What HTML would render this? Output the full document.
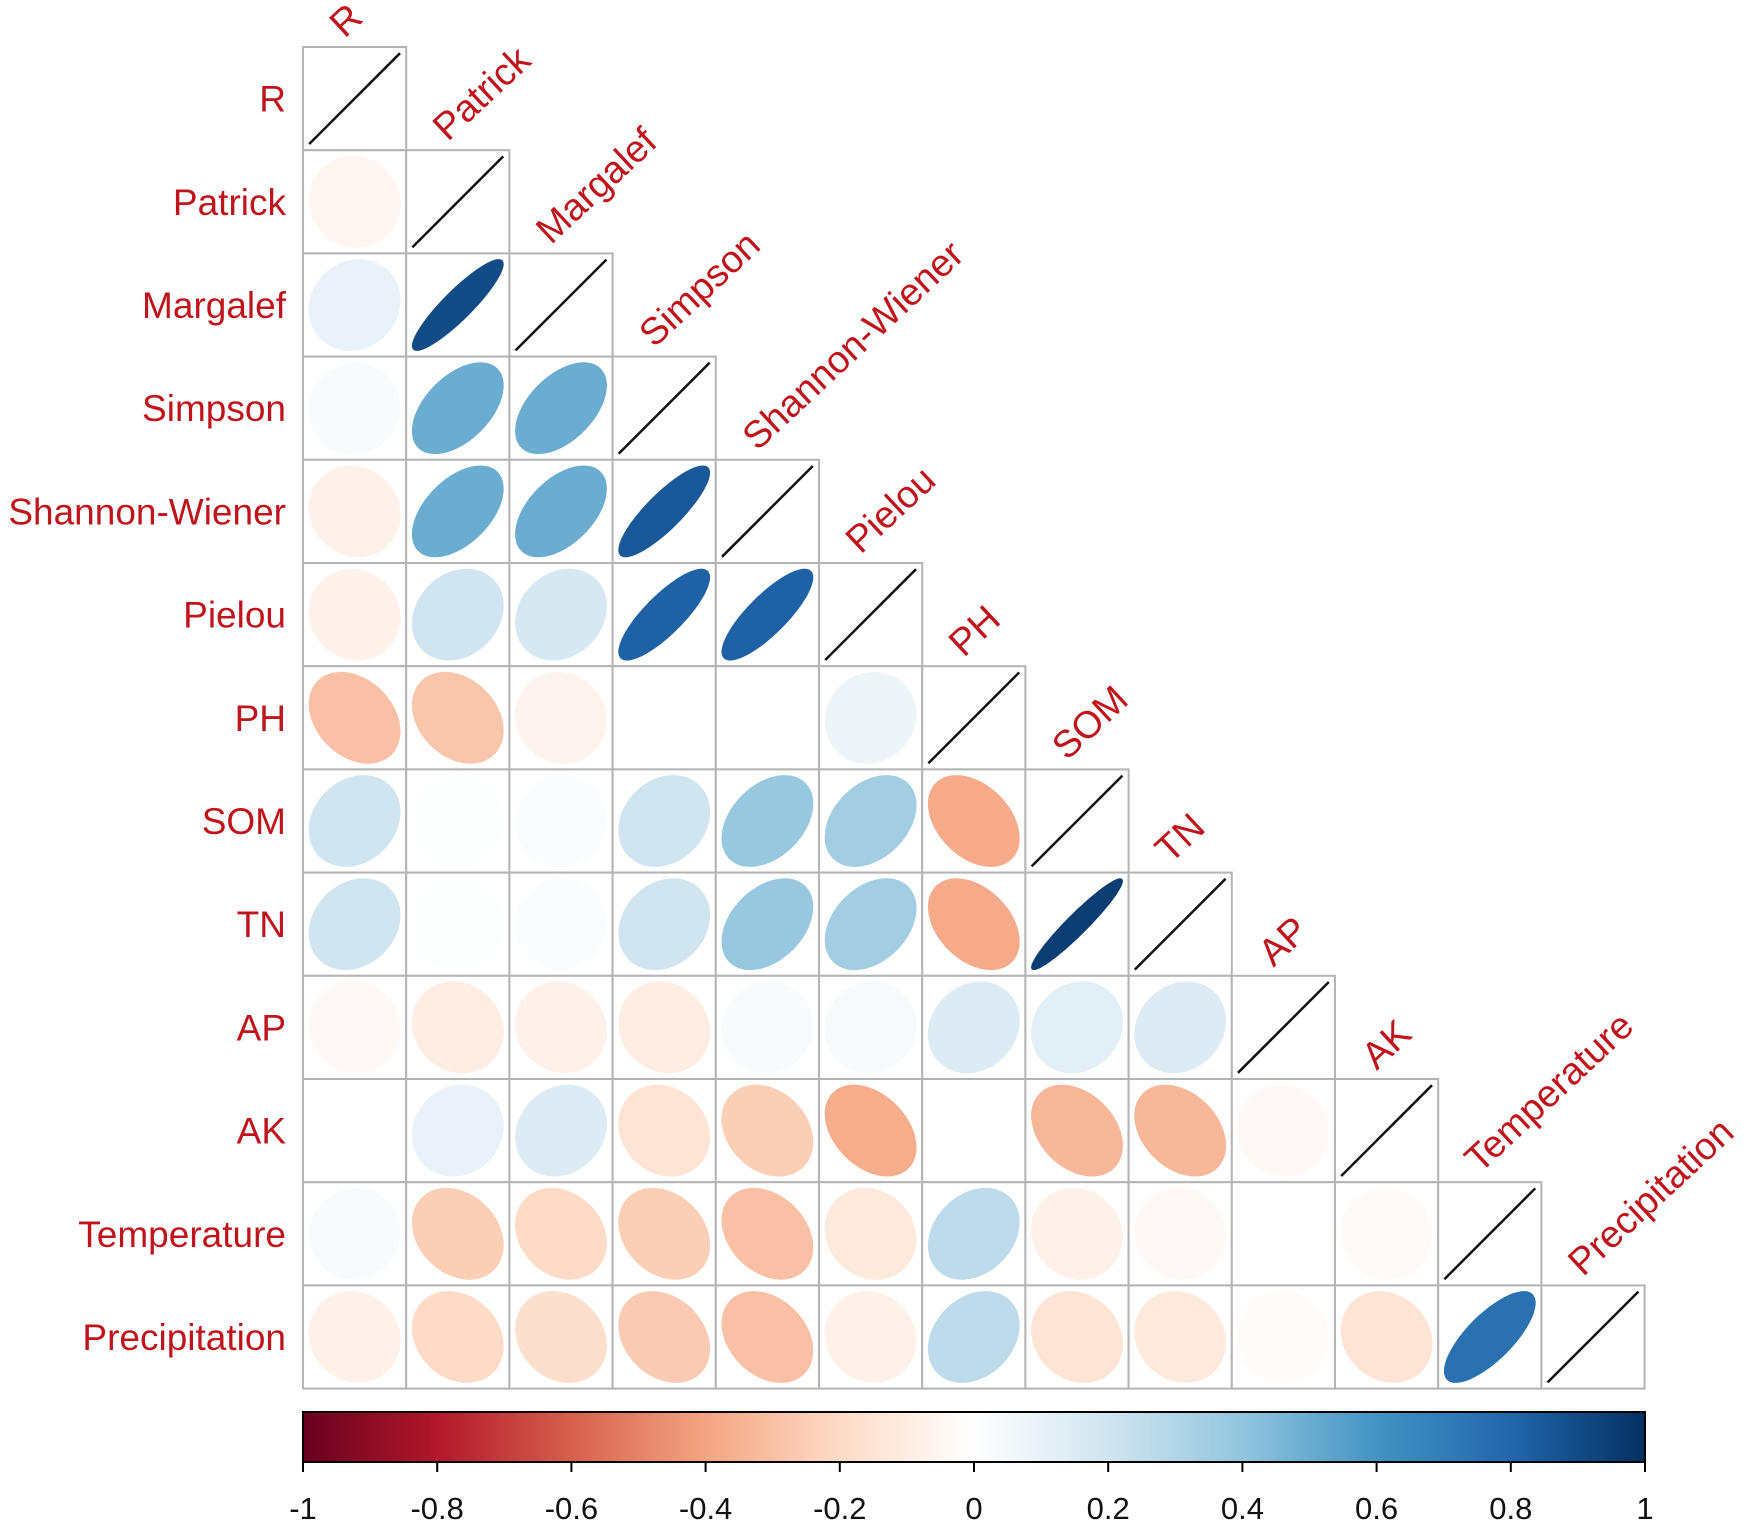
<!DOCTYPE html>
<html><head><meta charset="utf-8"><style>
html,body{margin:0;padding:0;background:#fff;}
svg{display:block;font-family:"Liberation Sans",sans-serif;}
</style></head><body>
<svg id="chart" width="1760" height="1532" viewBox="0 0 1760 1532" xmlns="http://www.w3.org/2000/svg">
<defs>
<linearGradient id="rdbu" x1="0" x2="1" y1="0" y2="0">
<stop offset="0" stop-color="#67001F"/><stop offset="0.1" stop-color="#B2182B"/><stop offset="0.2" stop-color="#D6604D"/><stop offset="0.3" stop-color="#F4A582"/><stop offset="0.4" stop-color="#FDDBC7"/><stop offset="0.5" stop-color="#FFFFFF"/><stop offset="0.6" stop-color="#D1E5F0"/><stop offset="0.7" stop-color="#92C5DE"/><stop offset="0.8" stop-color="#4393C3"/><stop offset="0.9" stop-color="#2166AC"/><stop offset="1" stop-color="#053061"/>
</linearGradient>
</defs>
<g id="cells"></g>
<g id="labels"></g>
<g id="legend"></g>
</svg>
<script>
const variables = ["R","Patrick","Margalef","Simpson","Shannon-Wiener","Pielou","PH","SOM","TN","AP","AK","Temperature","Precipitation"];
const corrRows = [
 [],
 [-0.05],
 [0.10,0.90],
 [0.03,0.50,0.50],
 [-0.08,0.50,0.50,0.85],
 [-0.07,0.20,0.18,0.82,0.82],
 [-0.30,-0.28,-0.06,0.00,0.00,0.08],
 [0.20,0.01,0.02,0.20,0.38,0.35,-0.38],
 [0.20,0.01,0.02,0.20,0.38,0.35,-0.38,0.95],
 [-0.04,-0.10,-0.08,-0.10,0.03,0.04,0.15,0.12,0.15],
 [0.00,0.10,0.15,-0.15,-0.25,-0.37,0.00,-0.33,-0.33,-0.04],
 [0.03,-0.25,-0.20,-0.25,-0.30,-0.12,0.26,-0.08,-0.04,0.00,-0.03],
 [-0.08,-0.20,-0.18,-0.26,-0.30,-0.08,0.26,-0.15,-0.12,-0.02,-0.15,0.75]
];
const tickValues = [-1,-0.8,-0.6,-0.4,-0.2,0,0.2,0.4,0.6,0.8,1];
const tickLabels = ["-1","-0.8","-0.6","-0.4","-0.2","0","0.2","0.4","0.6","0.8","1"];

const NS="http://www.w3.org/2000/svg";
const X0=303,Y0=47,CS=103.2;
const stops=["#67001F","#B2182B","#D6604D","#F4A582","#FDDBC7","#FFFFFF","#D1E5F0","#92C5DE","#4393C3","#2166AC","#053061"];
function hex(h){return [1,3,5].map(i=>parseInt(h.substr(i,2),16));}
function colorOf(r){
  const t=(r+1)/2*10;let i=Math.min(9,Math.floor(t));const f=t-i;
  const a=hex(stops[i]),b=hex(stops[i+1]);
  return "rgb("+a.map((v,k)=>Math.round(v+(b[k]-v)*f)).join(",")+")";
}
function mk(tag,attrs,parent){const e=document.createElementNS(NS,tag);for(const k in attrs)e.setAttribute(k,attrs[k]);parent.appendChild(e);return e;}
const cells=document.getElementById('cells');
const labels=document.getElementById('labels');
const legend=document.getElementById('legend');
const xCell=j=>X0+j*CS, yCell=i=>Y0+i*CS;
const n=variables.length;
for(let i=0;i<n;i++){
  for(let j=0;j<=i;j++){
    const r = i===j?1:corrRows[i][j];
    const x=xCell(j),y=yCell(i),cx=x+CS/2,cy=y+CS/2,rad=CS*0.44;
    const rect=mk('rect',{x:x,y:y,width:CS,height:CS,fill:'#fff',stroke:'#b4b4b4','stroke-width':2},cells);
    
    
    if(i===j){
      const ln=mk('line',{x1:cx-rad,y1:cy+rad,x2:cx+rad,y2:cy-rad,stroke:'#111','stroke-width':2.5},cells);
      
      
    } else {
      const d=Math.acos(Math.max(-1,Math.min(1,r)));let pts=[];
      for(let k=0;k<72;k++){const t=k/72*2*Math.PI;pts.push((cx+rad*Math.cos(t+d/2)).toFixed(1)+","+(cy-rad*Math.cos(t-d/2)).toFixed(1));}
      const c=colorOf(r);
      const el=mk('polygon',{points:pts.join(" "),fill:c,stroke:c,'stroke-width':1},cells);
      
      
    }
  }
}
for(let i=0;i<n;i++){
  const t=mk('text',{x:286,y:yCell(i)+CS/2+13,'text-anchor':'end','font-size':37,fill:'#c0141c'},labels);
  t.textContent=variables[i];
  
  
  const cx=xCell(i)+CS/2-10, ty=yCell(i)-8;
  const c=mk('text',{x:cx,y:ty,'font-size':38,fill:'#c0141c',transform:'rotate(-43 '+cx+' '+ty+')'},labels);
  c.textContent=variables[i];
  
  
}
const LX0=303,LX1=1645,LY=1412,LH=50;
const lx=v=>LX0+(v+1)/2*(LX1-LX0);
const bar=mk('rect',{x:LX0,y:LY,width:LX1-LX0,height:LH,fill:'url(#rdbu)',stroke:'#000','stroke-width':2},legend);


tickValues.forEach((v,k)=>{
  const x=lx(v);
  const tk=mk('line',{x1:x,y1:LY+LH,x2:x,y2:LY+LH+10,stroke:'#000','stroke-width':2},legend);
  
  
  const tl=mk('text',{x:x,y:1519,'text-anchor':'middle','font-size':31,fill:'#111'},legend);
  tl.textContent=tickLabels[k];
  
  
});
</script>
</body></html>
